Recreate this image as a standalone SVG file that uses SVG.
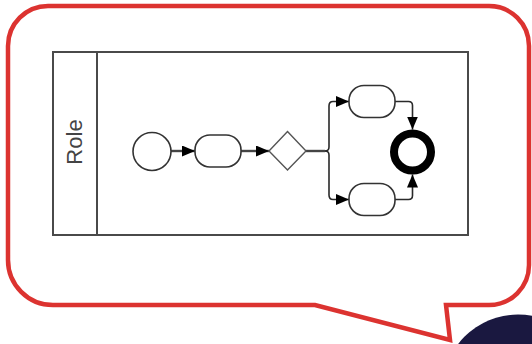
<svg xmlns="http://www.w3.org/2000/svg" width="532" height="344" viewBox="0 0 532 344">
<style>
.bubble{fill:#ffffff;stroke:#dc3330;stroke-width:4.5;stroke-linejoin:miter}
.pool{fill:#ffffff;stroke:#4a4a4a;stroke-width:2}
.shape{fill:#ffffff;stroke:#333333;stroke-width:1.6}
.flow{fill:none;stroke:#2a2a2a;stroke-width:1.6}
.flowthick{fill:none;stroke:#444444;stroke-width:2.4}
.lbl{font-family:"Liberation Sans",Arial,sans-serif;font-size:22px;fill:#444444}
</style>
<defs>
<marker id="arr" markerUnits="userSpaceOnUse" markerWidth="14" markerHeight="12" refX="13" refY="5.5" orient="auto">
<path d="M0,0 L13,5.5 L0,11 Z" fill="#000000"/>
</marker>
</defs>
<circle cx="518" cy="390" r="75.5" fill="#1a1840"/>
<path class="bubble" d="M48,6 H489 A40,40 0 0 1 529,46 V265 A40,40 0 0 1 489,305 H446 L450,340 L315,305 H53 A45,45 0 0 1 8,260 V46 A40,40 0 0 1 48,6 Z"/>
<g id="pool">
<rect class="pool" x="53" y="52" width="415" height="183"/>
<line class="pool" x1="97" y1="52" x2="97" y2="235"/>
<text class="lbl" x="81.5" y="142" text-anchor="middle" transform="rotate(-90 81.5 142)">Role</text>
</g>
<g id="connectors">
<path class="flowthick" d="M171,151 H195" marker-end="url(#arr)"/>
<path class="flowthick" d="M241,151 H269" marker-end="url(#arr)"/>
<path class="flowthick" d="M306,151 H325"/>
<path class="flow" d="M325,151 Q329,151 329,147 V106 Q329,101.5 333,101.5 H349" marker-end="url(#arr)"/>
<path class="flow" d="M325,151 Q329,151 329,155 V195 Q329,199.5 333,199.5 H349" marker-end="url(#arr)"/>
<path class="flow" d="M395,101.5 H408.5 Q412.5,101.5 412.5,105.5 V129.5" marker-end="url(#arr)"/>
<path class="flow" d="M395,199.5 H408.5 Q412.5,199.5 412.5,195.5 V174.5" marker-end="url(#arr)"/>
</g>
<g id="start">
<circle class="shape" cx="152" cy="151.5" r="19"/>
</g>
<g id="task1">
<rect class="shape" x="195" y="135" width="46" height="32" rx="15" ry="15"/>
</g>
<g id="gateway">
<path class="shape" d="M287.5,131.5 L306,151 L287.5,170 L269,151 Z" style="stroke:#555555;stroke-width:1.4"/>
</g>
<g id="task2">
<rect class="shape" x="349" y="85.5" width="46" height="32" rx="15" ry="15"/>
</g>
<g id="task3">
<rect class="shape" x="349" y="183.5" width="46" height="32" rx="15" ry="15"/>
</g>
<g id="end">
<circle cx="412.5" cy="152" r="18.5" fill="#ffffff" stroke="#000000" stroke-width="8"/>
</g>
</svg>
